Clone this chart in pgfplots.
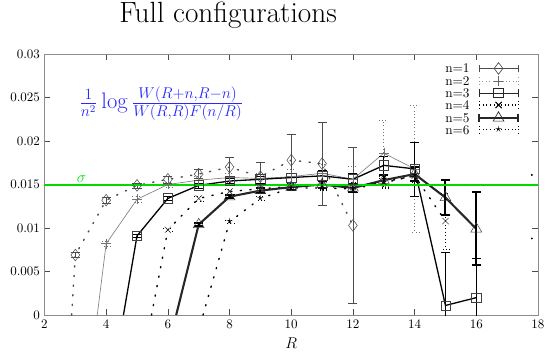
\documentclass[border=0pt]{standalone}
\usepackage{pgfplots}
\pgfplotsset{compat=1.18}
\usetikzlibrary{plotmarks}
\definecolor{sig}{RGB}{0,230,0}
\definecolor{fblue}{RGB}{40,40,255}
\tikzset{mydots/.style={line width=1.1pt, dash pattern=on 0.9pt off 6.5pt, line cap=round}}
\begin{document}
\begin{tikzpicture}
\useasboundingbox (-34.2pt,-34.6pt) rectangle (384.8pt,242.2pt);
\begin{axis}[
  scale only axis, width=379.4pt, height=200.7pt,
  xmin=2, xmax=18, ymin=0, ymax=0.03,
  xtick={2,4,6,8,10,12,14,16,18},
  ytick={0,0.005,0.01,0.015,0.02,0.025,0.03},
  scaled y ticks=false,
  yticklabel style={/pgf/number format/fixed,/pgf/number format/precision=3},
  xlabel={$R$}, xlabel style={font=\fontsize{11.5}{13}\selectfont, yshift=-1pt},
  title={Full configurations},
  title style={at={(0.372,1)}, anchor=base, yshift=18pt, font=\fontsize{22.5}{25}\selectfont},
  axis line style={black!45},
  tick style={black!70},
  clip=true,
  legend plot pos=right,
  legend cell align=right,
  legend style={draw=none, fill=none, at={(0.97,0.978)}, anchor=north east,
     nodes={inner sep=0.5pt, text height=6.8pt, text depth=0.2pt}, row sep=1.2pt, column sep=6pt,
     font=\fontsize{10.2}{12}\selectfont},
  legend image code/.code={
    \draw[#1,mark=none] (0pt,0pt) -- (30pt,0pt);
    \draw[#1,mark=none] (0pt,-3pt) -- (0pt,3pt) (30pt,-3pt) -- (30pt,3pt);
    \draw[#1,solid] plot coordinates {(15pt,0pt)};
  },
]
% connecting lines
\addplot[forget plot, black!70, mydots] coordinates {
 (2.88,0) (3,0.0069) (4,0.0132) (5,0.0149) (6,0.0156) (7,0.0162) (8,0.0170)
 (9,0.0159) (10,0.0178) (11,0.0174) (12,0.0103)};
\addplot[forget plot, black!50, line width=0.5pt] coordinates {
 (3.71,0) (4,0.0082) (5,0.0133) (6,0.0150) (7,0.0155) (8,0.0158) (9,0.0157)
 (10,0.0159) (11,0.0163) (12,0.0156) (13,0.0186) (14,0.0168)};
\addplot[forget plot, black, line width=1pt] coordinates {
 (4.56,0) (5,0.0091) (6,0.0134) (7,0.0149) (8,0.0154) (9,0.0156) (10,0.0158)
 (11,0.0160) (12,0.0156) (13,0.0172) (14,0.0168) (15,0.0011) (16,0.0020)};
\addplot[forget plot, black, mydots] coordinates {
 (5.47,0) (6,0.0098) (7,0.0134) (8,0.0142) (9,0.0145) (10,0.0148) (11,0.0149)
 (12,0.0147) (13,0.0153) (14,0.0160) (15,0.0108)};
\addplot[forget plot, black!85, line width=1.6pt] coordinates {
 (6.27,0) (7,0.0104) (8,0.0136) (9,0.0143) (10,0.0147) (11,0.0150) (12,0.0146)
 (13,0.0155) (14,0.0162) (15,0.0135) (16,0.0099)};
\addplot[forget plot, black, mydots] coordinates {
 (7.14,0) (8,0.0107) (9,0.0134) (10,0.0146) (11,0.0146) (12,0.0145) (13,0.0152) (14,0.0160)};
\addplot[forget plot, only marks, mark=*, mark size=0.5pt, black] coordinates {(17.8,0.0161) (17.8,0.0088)};

% markers with error bars
\addplot[forget plot, only marks, black!70, mark=diamond, mark size=4.5pt,
  error bars/.cd, y dir=both, y explicit, error bar style={line width=0.5pt},
  error mark options={rotate=90, mark size=3.5pt}] coordinates {
 (3,0.0069) +- (0,0.0003) (4,0.0132) +- (0,0.0003) (5,0.0149) +- (0,0.0003)
 (6,0.0156) +- (0,0.0004) (7,0.0162) +- (0,0.0005) (8,0.0170) +- (0,0.0011)
 (9,0.0159) +- (0,0.0017) (10,0.0178) +- (0,0.0030) (11,0.0174) +- (0,0.0048)
 (12,0.0103) +- (0,0.0090)};
\addplot[forget plot, only marks, black!55, mark=+, mark size=3.8pt,
  error bars/.cd, y dir=both, y explicit, error bar style={line width=0.6pt, dotted},
  error mark options={rotate=90, mark size=3.5pt, dotted}] coordinates {
 (4,0.0082) +- (0,0.0003) (5,0.0133) +- (0,0.0003) (6,0.0150) +- (0,0.0003)
 (7,0.0155) +- (0,0.0004) (8,0.0158) +- (0,0.0005) (9,0.0157) +- (0,0.0006)
 (10,0.0159) +- (0,0.0008) (11,0.0163) +- (0,0.0010) (12,0.0156) +- (0,0.0015)
 (13,0.0186) +- (0,0.0038) (14,0.0168) +- (0,0.0073)};
\addplot[forget plot, only marks, black!75, mark=square, mark size=3.6pt,
  error bars/.cd, y dir=both, y explicit, error bar style={line width=0.6pt, black},
  error mark options={rotate=90, mark size=3.5pt, black}] coordinates {
 (5,0.0091) +- (0,0.0002) (6,0.0134) +- (0,0.0002) (7,0.0149) +- (0,0.0003)
 (8,0.0154) +- (0,0.0003) (9,0.0156) +- (0,0.0004) (10,0.0158) +- (0,0.0005)
 (11,0.0160) +- (0,0.0006) (12,0.0156) +- (0,0.0007) (13,0.0172) +- (0,0.0010)
 (14,0.0168) +- (0,0.0031) (15,0.0011) +- (0,0.0061) (16,0.0020) +- (0,0.0045)};
\addplot[forget plot, only marks, black!75, mark=x, mark size=3.4pt,
  error bars/.cd, y dir=both, y explicit, error bar style={line width=0.7pt, dotted, black},
  error mark options={rotate=90, mark size=3.5pt, dotted, black}] coordinates {
 (6,0.0098) +- (0,0.0002) (7,0.0134) +- (0,0.0003) (8,0.0142) +- (0,0.0003)
 (9,0.0145) +- (0,0.0004) (10,0.0148) +- (0,0.0004) (11,0.0149) +- (0,0.0005)
 (12,0.0147) +- (0,0.0006) (13,0.0153) +- (0,0.0007) (14,0.0160) +- (0,0.0010)
 (15,0.0108) +- (0,0.0032)};
\addplot[forget plot, only marks, black!75, mark=triangle, mark size=4.8pt,
  error bars/.cd, y dir=both, y explicit, error bar style={line width=1.5pt, black},
  error mark options={rotate=90, mark size=3.5pt, line width=1.5pt, black}] coordinates {
 (7,0.0104) +- (0,0.0002) (8,0.0136) +- (0,0.0002) (9,0.0143) +- (0,0.0003)
 (10,0.0147) +- (0,0.0003) (11,0.0150) +- (0,0.0004) (12,0.0146) +- (0,0.0005)
 (13,0.0155) +- (0,0.0006) (14,0.0162) +- (0,0.0008) (15,0.0135) +- (0,0.0020)
 (16,0.0099) +- (0,0.0042)};
\addplot[forget plot, only marks, black!80, mark=text, text mark={$\star$},
  error bars/.cd, y dir=both, y explicit, error bar style={line width=0.7pt, dotted, black},
  error mark options={rotate=90, mark size=3.5pt, dotted, black}] coordinates {
 (8,0.0107) +- (0,0.0002) (9,0.0134) +- (0,0.0002) (10,0.0146) +- (0,0.0003)
 (11,0.0146) +- (0,0.0003) (12,0.0145) +- (0,0.0004) (13,0.0152) +- (0,0.0005)
 (14,0.0160) +- (0,0.0007)};

% sigma line (on top)
\addplot[forget plot, color=green!85!black, line width=1.6pt, mark=none] coordinates {(2,0.0149) (18,0.0149)};

% legend
\addlegendimage{black!70, line width=0.5pt, mark=diamond, mark size=4.5pt}
\addlegendentry{n=1}
\addlegendimage{black!40, line width=0.6pt, dotted, mark=+, mark size=3.8pt, mark options={solid, black!60}}
\addlegendentry{n=2}
\addlegendimage{black!85, line width=0.8pt, mark=square, mark size=3.6pt}
\addlegendentry{n=3}
\addlegendimage{black, line width=0.8pt, dotted, mark=x, mark size=3.4pt, mark options={solid}}
\addlegendentry{n=4}
\addlegendimage{black!85, line width=1.5pt, mark=triangle, mark size=4.8pt, mark options={line width=0.5pt}}
\addlegendentry{n=5}
\addlegendimage{black, line width=0.8pt, dotted, mark=text, text mark={$\star$}, mark options={solid}}
\addlegendentry{n=6}

\node[text=sig, anchor=base west] at (axis cs:2.9,0.0152) {\fontsize{13}{15}\selectfont$\sigma$};
\node[text=fblue, anchor=west, inner sep=0pt] at (axis cs:3.12,0.0243)
  {\fontsize{16.4}{18}\selectfont$\frac{1}{n^2}\log\frac{W(R{+}n,R{-}n)}{W(R,R)F(n/R)}$};
\end{axis}
\end{tikzpicture}
\end{document}
